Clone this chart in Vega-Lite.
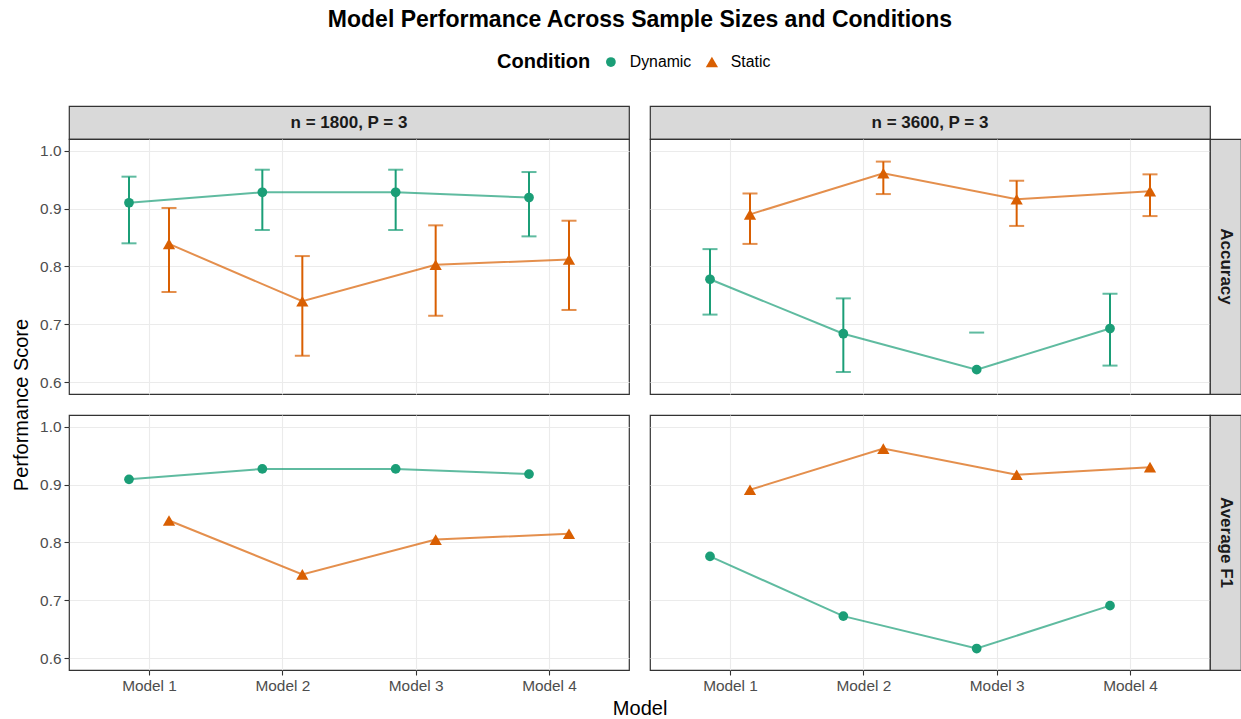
{
  "$schema": "https://vega.github.io/schema/vega-lite/v6.json",
  "padding": {"left": 11, "top": 9, "right": 0, "bottom": 0},
  "background": "white",
  "title": {"text": "Model Performance Across Sample Sizes and Conditions", "fontSize": 23, "fontWeight": "bold", "anchor": "middle", "offset": 22, "dx": 13.6, "color": "#000000", "font": "Liberation Sans"},
  "datasets": {
    "perf": [
      {"size": "n = 1800, P = 3", "metric": "Accuracy", "Model": "Model 1", "Condition": "Dynamic", "value": 0.910, "lo": 0.840, "hi": 0.955},
      {"size": "n = 1800, P = 3", "metric": "Accuracy", "Model": "Model 2", "Condition": "Dynamic", "value": 0.928, "lo": 0.863, "hi": 0.967},
      {"size": "n = 1800, P = 3", "metric": "Accuracy", "Model": "Model 3", "Condition": "Dynamic", "value": 0.928, "lo": 0.863, "hi": 0.967},
      {"size": "n = 1800, P = 3", "metric": "Accuracy", "Model": "Model 4", "Condition": "Dynamic", "value": 0.919, "lo": 0.852, "hi": 0.963},
      {"size": "n = 1800, P = 3", "metric": "Accuracy", "Model": "Model 1", "Condition": "Static", "value": 0.839, "lo": 0.756, "hi": 0.901},
      {"size": "n = 1800, P = 3", "metric": "Accuracy", "Model": "Model 2", "Condition": "Static", "value": 0.740, "lo": 0.646, "hi": 0.818},
      {"size": "n = 1800, P = 3", "metric": "Accuracy", "Model": "Model 3", "Condition": "Static", "value": 0.803, "lo": 0.715, "hi": 0.871},
      {"size": "n = 1800, P = 3", "metric": "Accuracy", "Model": "Model 4", "Condition": "Static", "value": 0.812, "lo": 0.725, "hi": 0.879},
      {"size": "n = 3600, P = 3", "metric": "Accuracy", "Model": "Model 1", "Condition": "Dynamic", "value": 0.778, "lo": 0.717, "hi": 0.830},
      {"size": "n = 3600, P = 3", "metric": "Accuracy", "Model": "Model 2", "Condition": "Dynamic", "value": 0.684, "lo": 0.618, "hi": 0.745},
      {"size": "n = 3600, P = 3", "metric": "Accuracy", "Model": "Model 3", "Condition": "Dynamic", "value": 0.622, "lo": null, "hi": 0.686},
      {"size": "n = 3600, P = 3", "metric": "Accuracy", "Model": "Model 4", "Condition": "Dynamic", "value": 0.693, "lo": 0.629, "hi": 0.753},
      {"size": "n = 3600, P = 3", "metric": "Accuracy", "Model": "Model 1", "Condition": "Static", "value": 0.890, "lo": 0.839, "hi": 0.926},
      {"size": "n = 3600, P = 3", "metric": "Accuracy", "Model": "Model 2", "Condition": "Static", "value": 0.961, "lo": 0.925, "hi": 0.981},
      {"size": "n = 3600, P = 3", "metric": "Accuracy", "Model": "Model 3", "Condition": "Static", "value": 0.916, "lo": 0.870, "hi": 0.948},
      {"size": "n = 3600, P = 3", "metric": "Accuracy", "Model": "Model 4", "Condition": "Static", "value": 0.930, "lo": 0.887, "hi": 0.959},
      {"size": "n = 1800, P = 3", "metric": "Average F1", "Model": "Model 1", "Condition": "Dynamic", "value": 0.909, "lo": null, "hi": null},
      {"size": "n = 1800, P = 3", "metric": "Average F1", "Model": "Model 2", "Condition": "Dynamic", "value": 0.927, "lo": null, "hi": null},
      {"size": "n = 1800, P = 3", "metric": "Average F1", "Model": "Model 3", "Condition": "Dynamic", "value": 0.927, "lo": null, "hi": null},
      {"size": "n = 1800, P = 3", "metric": "Average F1", "Model": "Model 4", "Condition": "Dynamic", "value": 0.918, "lo": null, "hi": null},
      {"size": "n = 1800, P = 3", "metric": "Average F1", "Model": "Model 1", "Condition": "Static", "value": 0.838, "lo": null, "hi": null},
      {"size": "n = 1800, P = 3", "metric": "Average F1", "Model": "Model 2", "Condition": "Static", "value": 0.745, "lo": null, "hi": null},
      {"size": "n = 1800, P = 3", "metric": "Average F1", "Model": "Model 3", "Condition": "Static", "value": 0.805, "lo": null, "hi": null},
      {"size": "n = 1800, P = 3", "metric": "Average F1", "Model": "Model 4", "Condition": "Static", "value": 0.815, "lo": null, "hi": null},
      {"size": "n = 3600, P = 3", "metric": "Average F1", "Model": "Model 1", "Condition": "Dynamic", "value": 0.776, "lo": null, "hi": null},
      {"size": "n = 3600, P = 3", "metric": "Average F1", "Model": "Model 2", "Condition": "Dynamic", "value": 0.673, "lo": null, "hi": null},
      {"size": "n = 3600, P = 3", "metric": "Average F1", "Model": "Model 3", "Condition": "Dynamic", "value": 0.617, "lo": null, "hi": null},
      {"size": "n = 3600, P = 3", "metric": "Average F1", "Model": "Model 4", "Condition": "Dynamic", "value": 0.691, "lo": null, "hi": null},
      {"size": "n = 3600, P = 3", "metric": "Average F1", "Model": "Model 1", "Condition": "Static", "value": 0.891, "lo": null, "hi": null},
      {"size": "n = 3600, P = 3", "metric": "Average F1", "Model": "Model 2", "Condition": "Static", "value": 0.962, "lo": null, "hi": null},
      {"size": "n = 3600, P = 3", "metric": "Average F1", "Model": "Model 3", "Condition": "Static", "value": 0.917, "lo": null, "hi": null},
      {"size": "n = 3600, P = 3", "metric": "Average F1", "Model": "Model 4", "Condition": "Static", "value": 0.930, "lo": null, "hi": null}
    ]
  },
  "columns": 4,
  "spacing": 0,
  "align": "each",
  "bounds": "flush",
  "concat": [
    {"width": 560, "height": 33, "view": {"fill": "#D9D9D9", "stroke": "#333333", "strokeWidth": 1.2},
     "data": {"values": [{"label": "n = 1800, P = 3"}]},
     "mark": {"type": "text", "fontSize": 17, "fontWeight": "bold", "color": "#1A1A1A", "font": "Liberation Sans"},
     "encoding": {"text": {"field": "label", "type": "nominal"}}},
    {"width": 21, "height": 33, "data": {"values": []}, "mark": "point"},
    {"width": 560, "height": 33, "view": {"fill": "#D9D9D9", "stroke": "#333333", "strokeWidth": 1.2},
     "data": {"values": [{"label": "n = 3600, P = 3"}]},
     "mark": {"type": "text", "fontSize": 17, "fontWeight": "bold", "color": "#1A1A1A", "font": "Liberation Sans"},
     "encoding": {"text": {"field": "label", "type": "nominal"}}},
    {"width": 31, "height": 33, "data": {"values": []}, "mark": "point"},

    {"width": 560, "height": 255, "view": {"stroke": "#333333", "strokeWidth": 1.2},
     "data": {"name": "perf"},
     "transform": [{"filter": "datum.size == 'n = 1800, P = 3' && datum.metric == 'Accuracy'"}],
     "encoding": {
       "x": {"field": "Model", "type": "nominal", "scale": {"type": "point", "padding": 0.6, "domain": ["Model 1", "Model 2", "Model 3", "Model 4"]}, "axis": {"labels": false, "ticks": false, "title": null, "grid": true}},
       "xOffset": {"field": "Condition", "type": "nominal", "scale": {"domain": ["Dynamic", "Static"], "range": [-40, 40], "paddingInner": 0, "paddingOuter": 0}},
       "color": {"field": "Condition", "type": "nominal", "scale": {"domain": ["Dynamic", "Static"], "range": ["#1B9E77", "#D95F02"]},
         "legend": {"title": "Condition", "orient": "none", "legendX": 428, "legendY": -52, "direction": "horizontal", "titleOrient": "left", "titleFontSize": 20, "titleFontWeight": "bold", "titleColor": "#000000", "titlePadding": 12, "labelFontSize": 15.8, "labelColor": "#000000", "symbolSize": 400, "symbolStrokeWidth": 0, "columnPadding": 12, "labelOffset": 11,
           "encode": {"symbols": {"update": {"shape": {"condition": {"test": "datum.value == 'Dynamic'", "value": "M-1,-0.1L-0.44,-0.1A0.45,0.45,0,0,1,0.44,-0.1L1,-0.1L1,0.1L0.44,0.1A0.45,0.45,0,0,1,-0.44,0.1L-1,0.1Z"}, "value": "M-1,-0.1L-0.5,-0.1L0,-0.65L0.5,-0.1L1,-0.1L1,0.1L0.62,0.1L0.7,0.45L-0.7,0.45L-0.62,0.1L-1,0.1Z"}, "size": {"value": 400}, "strokeWidth": {"value": 0}}}}}}
     },
     "layer": [
       {"mark": {"type": "rule", "strokeWidth": 2}, "transform": [{"filter": "isValid(datum.lo) && isValid(datum.hi)"}],
        "encoding": {"y": {"field": "lo", "type": "quantitative", "scale": {"domain": [0.58, 1.02], "nice": false, "zero": false}, "axis": {"title": "Performance Score", "titleY": 265.5, "titlePadding": 8, "values": [0.6, 0.7, 0.8, 0.9, 1.0], "format": ".1f", "grid": true}}, "y2": {"field": "hi"}}},
       {"mark": {"type": "tick", "thickness": 2, "size": 15}, "transform": [{"filter": "isValid(datum.hi)"}],
        "encoding": {"y": {"field": "hi", "type": "quantitative", "scale": {"domain": [0.58, 1.02], "nice": false, "zero": false}, "axis": {"title": "Performance Score", "titleY": 265.5, "titlePadding": 8, "values": [0.6, 0.7, 0.8, 0.9, 1.0], "format": ".1f", "grid": true}}}},
       {"mark": {"type": "tick", "thickness": 2, "size": 15}, "transform": [{"filter": "isValid(datum.lo)"}],
        "encoding": {"y": {"field": "lo", "type": "quantitative", "scale": {"domain": [0.58, 1.02], "nice": false, "zero": false}, "axis": {"title": "Performance Score", "titleY": 265.5, "titlePadding": 8, "values": [0.6, 0.7, 0.8, 0.9, 1.0], "format": ".1f", "grid": true}}}},
       {"mark": {"type": "line", "strokeWidth": 2, "opacity": 0.7},
        "encoding": {"y": {"field": "value", "type": "quantitative", "scale": {"domain": [0.58, 1.02], "nice": false, "zero": false}, "axis": {"title": "Performance Score", "titleY": 265.5, "titlePadding": 8, "values": [0.6, 0.7, 0.8, 0.9, 1.0], "format": ".1f", "grid": true}}}},
       {"mark": {"type": "point", "filled": true, "opacity": 1},
        "encoding": {"y": {"field": "value", "type": "quantitative", "scale": {"domain": [0.58, 1.02], "nice": false, "zero": false}, "axis": {"title": "Performance Score", "titleY": 265.5, "titlePadding": 8, "values": [0.6, 0.7, 0.8, 0.9, 1.0], "format": ".1f", "grid": true}},
          "shape": {"field": "Condition", "type": "nominal", "scale": {"domain": ["Dynamic", "Static"], "range": ["circle", "triangle-up"]}, "legend": null},
          "size": {"field": "Condition", "type": "nominal", "scale": {"domain": ["Dynamic", "Static"], "range": [95, 150]}, "legend": null}}}
     ]},
    {"width": 21, "height": 255, "data": {"values": []}, "mark": "point"},
    {"width": 560, "height": 255, "view": {"stroke": "#333333", "strokeWidth": 1.2},
     "data": {"name": "perf"},
     "transform": [{"filter": "datum.size == 'n = 3600, P = 3' && datum.metric == 'Accuracy'"}],
     "encoding": {
       "x": {"field": "Model", "type": "nominal", "scale": {"type": "point", "padding": 0.6, "domain": ["Model 1", "Model 2", "Model 3", "Model 4"]}, "axis": {"labels": false, "ticks": false, "title": null, "grid": true}},
       "xOffset": {"field": "Condition", "type": "nominal", "scale": {"domain": ["Dynamic", "Static"], "range": [-40, 40], "paddingInner": 0, "paddingOuter": 0}},
       "color": {"field": "Condition", "type": "nominal", "scale": {"domain": ["Dynamic", "Static"], "range": ["#1B9E77", "#D95F02"]},
         "legend": {"title": "Condition", "orient": "none", "legendX": 428, "legendY": -52, "direction": "horizontal", "titleOrient": "left", "titleFontSize": 20, "titleFontWeight": "bold", "titleColor": "#000000", "titlePadding": 12, "labelFontSize": 15.8, "labelColor": "#000000", "symbolSize": 400, "symbolStrokeWidth": 0, "columnPadding": 12, "labelOffset": 11,
           "encode": {"symbols": {"update": {"shape": {"condition": {"test": "datum.value == 'Dynamic'", "value": "M-1,-0.1L-0.44,-0.1A0.45,0.45,0,0,1,0.44,-0.1L1,-0.1L1,0.1L0.44,0.1A0.45,0.45,0,0,1,-0.44,0.1L-1,0.1Z"}, "value": "M-1,-0.1L-0.5,-0.1L0,-0.65L0.5,-0.1L1,-0.1L1,0.1L0.62,0.1L0.7,0.45L-0.7,0.45L-0.62,0.1L-1,0.1Z"}, "size": {"value": 400}, "strokeWidth": {"value": 0}}}}}}
     },
     "layer": [
       {"mark": {"type": "rule", "strokeWidth": 2}, "transform": [{"filter": "isValid(datum.lo) && isValid(datum.hi)"}],
        "encoding": {"y": {"field": "lo", "type": "quantitative", "scale": {"domain": [0.58, 1.02], "nice": false, "zero": false}, "axis": {"title": null, "labels": false, "ticks": false, "values": [0.6, 0.7, 0.8, 0.9, 1.0], "grid": true}}, "y2": {"field": "hi"}}},
       {"mark": {"type": "tick", "thickness": 2, "size": 15}, "transform": [{"filter": "isValid(datum.hi)"}],
        "encoding": {"y": {"field": "hi", "type": "quantitative", "scale": {"domain": [0.58, 1.02], "nice": false, "zero": false}, "axis": {"title": null, "labels": false, "ticks": false, "values": [0.6, 0.7, 0.8, 0.9, 1.0], "grid": true}}}},
       {"mark": {"type": "tick", "thickness": 2, "size": 15}, "transform": [{"filter": "isValid(datum.lo)"}],
        "encoding": {"y": {"field": "lo", "type": "quantitative", "scale": {"domain": [0.58, 1.02], "nice": false, "zero": false}, "axis": {"title": null, "labels": false, "ticks": false, "values": [0.6, 0.7, 0.8, 0.9, 1.0], "grid": true}}}},
       {"mark": {"type": "line", "strokeWidth": 2, "opacity": 0.7},
        "encoding": {"y": {"field": "value", "type": "quantitative", "scale": {"domain": [0.58, 1.02], "nice": false, "zero": false}, "axis": {"title": null, "labels": false, "ticks": false, "values": [0.6, 0.7, 0.8, 0.9, 1.0], "grid": true}}}},
       {"mark": {"type": "point", "filled": true, "opacity": 1},
        "encoding": {"y": {"field": "value", "type": "quantitative", "scale": {"domain": [0.58, 1.02], "nice": false, "zero": false}, "axis": {"title": null, "labels": false, "ticks": false, "values": [0.6, 0.7, 0.8, 0.9, 1.0], "grid": true}},
          "shape": {"field": "Condition", "type": "nominal", "scale": {"domain": ["Dynamic", "Static"], "range": ["circle", "triangle-up"]}, "legend": null},
          "size": {"field": "Condition", "type": "nominal", "scale": {"domain": ["Dynamic", "Static"], "range": [95, 150]}, "legend": null}}}
     ]},
    {"width": 31, "height": 255, "view": {"fill": "#D9D9D9", "stroke": "#333333", "strokeWidth": 1.2},
     "data": {"values": [{"label": "Accuracy"}]},
     "mark": {"type": "text", "fontSize": 17, "fontWeight": "bold", "color": "#1A1A1A", "angle": 90, "font": "Liberation Sans"},
     "encoding": {"text": {"field": "label", "type": "nominal"}}},

    {"width": 560, "height": 21, "data": {"values": []}, "mark": "point"},
    {"width": 21, "height": 21, "data": {"values": []}, "mark": "point"},
    {"width": 560, "height": 21, "data": {"values": []}, "mark": "point"},
    {"width": 31, "height": 21, "data": {"values": []}, "mark": "point"},

    {"width": 560, "height": 255, "view": {"stroke": "#333333", "strokeWidth": 1.2},
     "data": {"name": "perf"},
     "transform": [{"filter": "datum.size == 'n = 1800, P = 3' && datum.metric == 'Average F1'"}],
     "encoding": {
       "x": {"field": "Model", "type": "nominal", "scale": {"type": "point", "padding": 0.6, "domain": ["Model 1", "Model 2", "Model 3", "Model 4"]}, "axis": {"title": "Model", "titleX": 570.6, "titlePadding": 5, "labelAngle": 0, "grid": true}},
       "xOffset": {"field": "Condition", "type": "nominal", "scale": {"domain": ["Dynamic", "Static"], "range": [-40, 40], "paddingInner": 0, "paddingOuter": 0}},
       "color": {"field": "Condition", "type": "nominal", "scale": {"domain": ["Dynamic", "Static"], "range": ["#1B9E77", "#D95F02"]},
         "legend": {"title": "Condition", "orient": "none", "legendX": 428, "legendY": -52, "direction": "horizontal", "titleOrient": "left", "titleFontSize": 20, "titleFontWeight": "bold", "titleColor": "#000000", "titlePadding": 12, "labelFontSize": 15.8, "labelColor": "#000000", "symbolSize": 400, "symbolStrokeWidth": 0, "columnPadding": 12, "labelOffset": 11,
           "encode": {"symbols": {"update": {"shape": {"condition": {"test": "datum.value == 'Dynamic'", "value": "M-1,-0.1L-0.44,-0.1A0.45,0.45,0,0,1,0.44,-0.1L1,-0.1L1,0.1L0.44,0.1A0.45,0.45,0,0,1,-0.44,0.1L-1,0.1Z"}, "value": "M-1,-0.1L-0.5,-0.1L0,-0.65L0.5,-0.1L1,-0.1L1,0.1L0.62,0.1L0.7,0.45L-0.7,0.45L-0.62,0.1L-1,0.1Z"}, "size": {"value": 400}, "strokeWidth": {"value": 0}}}}}}
     },
     "layer": [
       {"mark": {"type": "line", "strokeWidth": 2, "opacity": 0.7},
        "encoding": {"y": {"field": "value", "type": "quantitative", "scale": {"domain": [0.58, 1.02], "nice": false, "zero": false}, "axis": {"title": null, "values": [0.6, 0.7, 0.8, 0.9, 1.0], "format": ".1f", "grid": true}}}},
       {"mark": {"type": "point", "filled": true, "opacity": 1},
        "encoding": {"y": {"field": "value", "type": "quantitative", "scale": {"domain": [0.58, 1.02], "nice": false, "zero": false}, "axis": {"title": null, "values": [0.6, 0.7, 0.8, 0.9, 1.0], "format": ".1f", "grid": true}},
          "shape": {"field": "Condition", "type": "nominal", "scale": {"domain": ["Dynamic", "Static"], "range": ["circle", "triangle-up"]}, "legend": null},
          "size": {"field": "Condition", "type": "nominal", "scale": {"domain": ["Dynamic", "Static"], "range": [95, 150]}, "legend": null}}}
     ]},
    {"width": 21, "height": 255, "data": {"values": []}, "mark": "point"},
    {"width": 560, "height": 255, "view": {"stroke": "#333333", "strokeWidth": 1.2},
     "data": {"name": "perf"},
     "transform": [{"filter": "datum.size == 'n = 3600, P = 3' && datum.metric == 'Average F1'"}],
     "encoding": {
       "x": {"field": "Model", "type": "nominal", "scale": {"type": "point", "padding": 0.6, "domain": ["Model 1", "Model 2", "Model 3", "Model 4"]}, "axis": {"title": null, "labelAngle": 0, "grid": true}},
       "xOffset": {"field": "Condition", "type": "nominal", "scale": {"domain": ["Dynamic", "Static"], "range": [-40, 40], "paddingInner": 0, "paddingOuter": 0}},
       "color": {"field": "Condition", "type": "nominal", "scale": {"domain": ["Dynamic", "Static"], "range": ["#1B9E77", "#D95F02"]},
         "legend": {"title": "Condition", "orient": "none", "legendX": 428, "legendY": -52, "direction": "horizontal", "titleOrient": "left", "titleFontSize": 20, "titleFontWeight": "bold", "titleColor": "#000000", "titlePadding": 12, "labelFontSize": 15.8, "labelColor": "#000000", "symbolSize": 400, "symbolStrokeWidth": 0, "columnPadding": 12, "labelOffset": 11,
           "encode": {"symbols": {"update": {"shape": {"condition": {"test": "datum.value == 'Dynamic'", "value": "M-1,-0.1L-0.44,-0.1A0.45,0.45,0,0,1,0.44,-0.1L1,-0.1L1,0.1L0.44,0.1A0.45,0.45,0,0,1,-0.44,0.1L-1,0.1Z"}, "value": "M-1,-0.1L-0.5,-0.1L0,-0.65L0.5,-0.1L1,-0.1L1,0.1L0.62,0.1L0.7,0.45L-0.7,0.45L-0.62,0.1L-1,0.1Z"}, "size": {"value": 400}, "strokeWidth": {"value": 0}}}}}}
     },
     "layer": [
       {"mark": {"type": "line", "strokeWidth": 2, "opacity": 0.7},
        "encoding": {"y": {"field": "value", "type": "quantitative", "scale": {"domain": [0.58, 1.02], "nice": false, "zero": false}, "axis": {"title": null, "labels": false, "ticks": false, "values": [0.6, 0.7, 0.8, 0.9, 1.0], "grid": true}}}},
       {"mark": {"type": "point", "filled": true, "opacity": 1},
        "encoding": {"y": {"field": "value", "type": "quantitative", "scale": {"domain": [0.58, 1.02], "nice": false, "zero": false}, "axis": {"title": null, "labels": false, "ticks": false, "values": [0.6, 0.7, 0.8, 0.9, 1.0], "grid": true}},
          "shape": {"field": "Condition", "type": "nominal", "scale": {"domain": ["Dynamic", "Static"], "range": ["circle", "triangle-up"]}, "legend": null},
          "size": {"field": "Condition", "type": "nominal", "scale": {"domain": ["Dynamic", "Static"], "range": [95, 150]}, "legend": null}}}
     ]},
    {"width": 31, "height": 255, "view": {"fill": "#D9D9D9", "stroke": "#333333", "strokeWidth": 1.2},
     "data": {"values": [{"label": "Average F1"}]},
     "mark": {"type": "text", "fontSize": 17, "fontWeight": "bold", "color": "#1A1A1A", "angle": 90, "font": "Liberation Sans"},
     "encoding": {"text": {"field": "label", "type": "nominal"}}}
  ],
  "config": {
    "view": {"stroke": null},
    "font": "Liberation Sans",
    "axis": {"gridColor": "#EBEBEB", "gridWidth": 1.1, "domain": false, "tickColor": "#333333", "tickSize": 5, "tickWidth": 1.1, "labelColor": "#4D4D4D", "labelFontSize": 15.4, "labelFont": "Liberation Sans", "labelPadding": 3, "titleFont": "Liberation Sans", "titleFontSize": 20, "titleFontWeight": "normal", "titleColor": "#000000"},
    "legend": {"labelFont": "Liberation Sans", "titleFont": "Liberation Sans"}
  }
}
